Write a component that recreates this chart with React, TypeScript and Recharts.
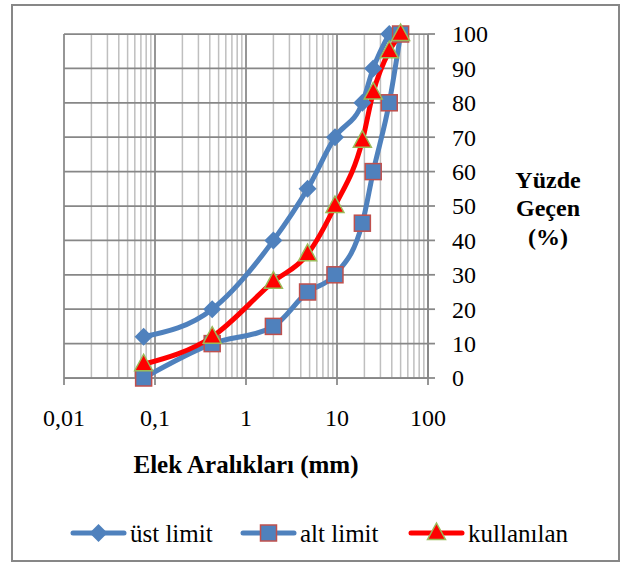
import React from 'react'
import {
  LineChart, Line, XAxis, YAxis, CartesianGrid, Legend,
} from 'recharts'

const FONT = '"Liberation Serif", "DejaVu Serif", serif'
const BLUE = '#4F81BD'
const RED = '#FF0000'
const GRID_MAJOR = '#878787'
const GRID_MINOR = '#BFBFBF'

// sieve sizes (mm) and passing percentages
const elekAraligi = [0.075, 0.425, 2, 4.75, 9.5, 19, 25, 37.5, 50]
const ustLimit = [12, 20, 40, 55, 70, 80, 90, 100, null]
const altLimit = [0, 10, 15, 25, 30, 45, 60, 80, 100]
const kullanilan = [4, 12, 28, 36, 50, 69, 83, 95, 100]

const xTicks = [0.01, 0.1, 1, 10, 100]
const yTicks = [0, 10, 20, 30, 40, 50, 60, 70, 80, 90, 100]
const minorSteps = [2, 3, 4, 5, 6, 7, 8, 9]
const minorX = [0.01, 0.1, 1, 10].flatMap((d) => minorSteps.map((m) => +(d * m).toPrecision(3)))

const data = elekAraligi.map((x, i) => ({
  x,
  ust: ustLimit[i],
  alt: altLimit[i],
  kul: kullanilan[i],
}))

const Diamond = (props: any) => {
  const { cx, cy } = props
  if (cx == null || cy == null) return <g key={props.key} />
  return (
    <path
      key={props.key}
      d={`M${cx} ${cy - 9}L${cx + 9} ${cy}L${cx} ${cy + 9}L${cx - 9} ${cy}Z`}
      fill={BLUE}
    />
  )
}

const Square = (props: any) => {
  const { cx, cy } = props
  if (cx == null || cy == null) return <g key={props.key} />
  return (
    <rect key={props.key} x={cx - 8} y={cy - 8} width={16} height={16}
      fill={BLUE} stroke="#C0504D" strokeWidth={1.5} />
  )
}

const Triangle = (props: any) => {
  const { cx, cy } = props
  if (cx == null || cy == null) return <g key={props.key} />
  return (
    <path key={props.key}
      d={`M${cx} ${cy - 10}L${cx + 9} ${cy + 6.5}L${cx - 9} ${cy + 6.5}Z`}
      fill={RED} stroke="#9BBB59" strokeWidth={1.5} />
  )
}

const series = [
  { key: 'ust', name: 'üst limit', color: BLUE, Dot: Diamond },
  { key: 'alt', name: 'alt limit', color: BLUE, Dot: Square },
  { key: 'kul', name: 'kullanılan', color: RED, Dot: Triangle },
]

// legend drawn in svg so the font is the same as the axis text
const renderLegend = () => {
  const starts = [70, 240, 408]
  return (
    <svg width={620} height={30}>
      {series.map((s, i) => (
        <g key={s.key}>
          <line x1={starts[i] + 3} y1={15} x2={starts[i] + 54} y2={15}
            stroke={s.color} strokeWidth={5} strokeLinecap="round" />
          <s.Dot cx={starts[i] + 28.5} cy={15} />
          <text x={starts[i] + 60} y={15} dy="0.35em" fontFamily={FONT} fontSize={25} fill="#000">
            {s.name}
          </text>
        </g>
      ))}
    </svg>
  )
}

const XLabel = (props: any) => {
  const { x, width, y } = props.viewBox
  return (
    <text x={x + width / 2} y={y + 95} textAnchor="middle" fontFamily={FONT}
      fontWeight="bold" fontSize={25} fill="#000">
      Elek Aralıkları (mm)
    </text>
  )
}

const YLabel = (props: any) => {
  const { x } = props.viewBox
  const cx = x + 120
  return (
    <text textAnchor="middle" fontFamily={FONT} fontWeight="bold" fontSize={24} fill="#000">
      <tspan x={cx} y={188}>Yüzde</tspan>
      <tspan x={cx} y={216}>Geçen</tspan>
      <tspan x={cx} y={245}>(%)</tspan>
    </text>
  )
}

const XTick = (props: any) => {
  const { x, y, payload } = props
  return (
    <text x={x} y={y} dy="0.71em" textAnchor="middle" fontFamily={FONT} fontSize={24} fill="#000">
      {String(payload.value).replace('.', ',')}
    </text>
  )
}

const YTick = (props: any) => {
  const { x, y, payload } = props
  return (
    <text x={x} y={y} dy="0.35em" textAnchor="start" fontFamily={FONT} fontSize={24} fill="#000">
      {payload.value}
    </text>
  )
}

export default function App() {
  return (
    <div style={{ position: 'absolute', left: 0, top: 0, width: 620, height: 566, background: '#fff' }}>
      <div style={{
        position: 'absolute', left: 11, top: 4, width: 609, height: 558,
        border: `2px solid ${GRID_MAJOR}`, boxSizing: 'border-box',
      }} />
      <LineChart width={620} height={566} data={data}
        margin={{ top: 34, right: 2, bottom: 88, left: 64 }}>
        <CartesianGrid horizontal={false} verticalValues={minorX} stroke={GRID_MINOR} strokeWidth={1.5} />
        <CartesianGrid verticalValues={xTicks} horizontalValues={yTicks} stroke={GRID_MAJOR} strokeWidth={1.75} />
        <XAxis
          dataKey="x" type="number" scale="log" domain={[0.01, 100]} allowDataOverflow
          ticks={xTicks} interval={0} height={100}
          tick={<XTick />}
          tickSize={7} tickMargin={24}
          axisLine={{ stroke: GRID_MAJOR, strokeWidth: 1.75 }}
          tickLine={{ stroke: GRID_MAJOR, strokeWidth: 1.75 }}
          label={<XLabel />}
        />
        <YAxis
          orientation="right" type="number" domain={[0, 100]} ticks={yTicks} interval={0}
          width={190} tickSize={7} tickMargin={17}
          tick={<YTick />}
          axisLine={{ stroke: GRID_MAJOR, strokeWidth: 1.75 }}
          tickLine={{ stroke: GRID_MAJOR, strokeWidth: 1.75 }}
          label={<YLabel />}
        />
        {series.map((s) => (
          <Line key={s.key} dataKey={s.key} name={s.name} type="monotone"
            stroke={s.color} strokeWidth={5}
            dot={(p: any) => <s.Dot {...p} />}
            activeDot={false} isAnimationActive={false} />
        ))}
        <Legend verticalAlign="middle" content={renderLegend}
          wrapperStyle={{ top: 518, left: 0, width: 620 }} />
      </LineChart>
    </div>
  )
}
